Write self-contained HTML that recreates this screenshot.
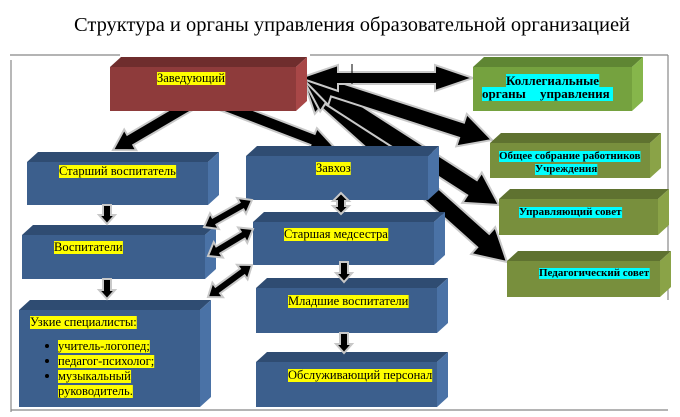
<!DOCTYPE html>
<html><head><meta charset="utf-8">
<style>
html,body{margin:0;padding:0;background:#fff;}
body{width:680px;height:417px;overflow:hidden;position:relative;}
svg{position:absolute;left:0;top:0;}
text{font-family:"Liberation Serif",serif;}
</style></head><body>
<svg id="s" width="680" height="417" xmlns="http://www.w3.org/2000/svg">
<text x="352" y="31" font-size="20.5" text-anchor="middle" fill="#000">Структура и органы управления образовательной организацией</text>
<g stroke="#888" stroke-width="1.2" fill="none">
<line x1="10" y1="55" x2="120" y2="55"/><line x1="310" y1="55" x2="668" y2="55"/>
<line x1="11" y1="60" x2="11" y2="412"/><line x1="668" y1="55" x2="668" y2="300"/>
<line x1="11" y1="410" x2="668" y2="410"/>
</g>
<g id="arrowsBack"></g>
<g id="boxes"></g>
<g id="arrowsFront"></g>
<line x1="352" y1="64" x2="352" y2="84" stroke="#000" stroke-width="1"/>
<g id="labels"></g>
</svg>
<script>
var NS="http://www.w3.org/2000/svg";
function el(p,t,a,txt){var e=document.createElementNS(NS,t);for(var k in a)e.setAttribute(k,a[k]);if(txt)e.textContent=txt;p.appendChild(e);return e;}
function arrow(g,x1,y1,x2,y2,w,hw,hl,dbl){
 var dx=x2-x1,dy=y2-y1,L=Math.sqrt(dx*dx+dy*dy),ux=dx/L,uy=dy/L,nx=-uy,ny=ux;
 function P(d,o){return (x1+ux*d+nx*o).toFixed(1)+","+(y1+uy*d+ny*o).toFixed(1);}
 var pts=[];
 if(dbl){pts.push(P(0,0),P(hl,hw),P(hl,w));}else{pts.push(P(0,w));}
 pts.push(P(L-hl,w),P(L-hl,hw),P(L,0),P(L-hl,-hw),P(L-hl,-w));
 if(dbl){pts.push(P(hl,-w),P(hl,-hw));}else{pts.push(P(0,-w));}
 el(g,"polygon",{points:pts.join(" "),fill:"#000",stroke:"#c8c8c8","stroke-width":"2","stroke-linejoin":"miter"});
}
function box(g,x,y,x2,y2,f,t,s){
 var d=11,h=10;
 el(g,"polygon",{points:x+","+y+" "+(x+d)+","+(y-h)+" "+(x2+d)+","+(y-h)+" "+x2+","+y,fill:t});
 el(g,"polygon",{points:x2+","+y+" "+(x2+d)+","+(y-h)+" "+(x2+d)+","+(y2-h)+" "+x2+","+y2,fill:s});
 el(g,"rect",{x:x,y:y,width:x2-x,height:y2-y,fill:f});
}
function lab(g,x,y,txt,bg,size,bold,minw){
 var t=el(g,"text",{x:x,y:y,"font-size":size||12,"font-weight":bold?"bold":"normal",fill:"#000"},txt);
 var b=t.getBBox();
 var r=document.createElementNS(NS,"rect");
 r.setAttribute("x",b.x);r.setAttribute("y",b.y+1);r.setAttribute("width",Math.max(b.width,minw||0));r.setAttribute("height",b.height-1);r.setAttribute("fill",bg);
 g.insertBefore(r,t);
}
var ab=document.getElementById("arrowsBack"),bx=document.getElementById("boxes"),af=document.getElementById("arrowsFront"),lb=document.getElementById("labels");
arrow(ab,303,79,507,262,9,18,32,true);
arrow(ab,303,79,499,205,9,18,32,true);
arrow(ab,303,79,492,140,8,17,32,true);
arrow(ab,300,78,473,78,6,13,38,true);
arrow(ab,198,100,113,150,6,12,20,false);
arrow(ab,210,100,335,148,6,12,24,false);
var B="#3c5f8d",BT="#2f4c72",BS="#4a72a6";
box(bx,110,67,296,111,"#8e3b3b","#6f2d2d","#a84747");
box(bx,27,162,208,205,B,BT,BS);
box(bx,246,156,428,200,B,BT,BS);
box(bx,253,222,434,265,B,BT,BS);
box(bx,22,235,205,279,B,BT,BS);
box(bx,19,310,200,407,B,BT,BS);
box(bx,256,288,437,333,B,BT,BS);
box(bx,256,362,437,407,B,BT,BS);
box(bx,473,67,632,111,"#75a23f","#5f8633","#86b64b");
box(bx,490,143,650,178,"#788f3d","#5f7230","#8aa347");
box(bx,499,199,658,235,"#788f3d","#5f7230","#8aa347");
box(bx,507,261,660,297,"#788f3d","#5f7230","#8aa347");
arrow(af,107,205,107,224,4,8,9,false);
arrow(af,107,279,107,299,4,8,9,false);
arrow(af,341,193,341,214,4,8,8,true);
arrow(af,344,262,344,282,4,8,9,false);
arrow(af,344,333,344,353,4,8,9,false);
arrow(af,252,200,204,227,4,9,12,true);
arrow(af,253,229,208,256,4,9,12,true);
arrow(af,252,265,208,297,4,9,12,true);
var Y="#ffff00",C="#00ffff";
lab(lb,157,82,"Заведующий",Y,12.5);
lab(lb,59,175,"Старший воспитатель",Y,12.5);
lab(lb,316,172,"Завхоз",Y,12.5);
lab(lb,284,238,"Старшая медсестра",Y,12.5);
lab(lb,54,251,"Воспитатели",Y,12.5);
lab(lb,30,326,"Узкие специалисты:",Y,12.5);
lab(lb,58,350,"учитель-логопед;",Y,12.5);
lab(lb,58,365,"педагог-психолог;",Y,12.5);
lab(lb,58,380,"музыкальный",Y,12.5);
lab(lb,58,395,"руководитель.",Y,12.5);
[346,361,376].forEach(function(y){el(lb,"circle",{cx:47,cy:y,r:2,fill:"#000"});});
lab(lb,288,305,"Младшие воспитатели",Y,12.5);
lab(lb,288,379,"Обслуживающий персонал",Y,12.5);
lab(lb,506,85,"Коллегиальные",C,13,true);
lab(lb,482,98,"органы",C,13,true,131);
el(lb,"text",{x:540,y:98,"font-size":13,"font-weight":"bold",fill:"#000"},"управления");
lab(lb,499,159,"Общее собрание работников",C,11,true);
lab(lb,535,172,"Учреждения",C,11,true);
lab(lb,519,215,"Управляющий совет",C,11,true);
lab(lb,539,276,"Педагогический совет",C,11,true);
</script>
</body></html>
